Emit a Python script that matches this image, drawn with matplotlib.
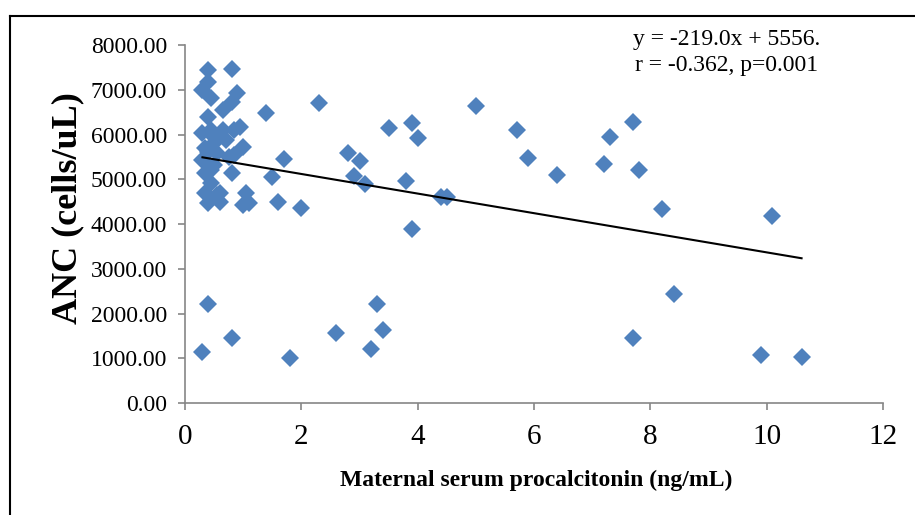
import matplotlib
matplotlib.use('Agg')

import numpy as np
import matplotlib.pyplot as plt
from matplotlib.lines import Line2D

plt.rcParams['font.family'] = ['Liberation Serif', 'DejaVu Serif']

# procalcitonin (ng/mL) - dense cluster near zero
pct_cluster = [0.4, 0.8, 0.3, 0.4, 0.45, 0.9, 0.8, 0.65, 0.4, 0.3, 0.45, 0.65,
               0.85, 0.95, 0.7, 0.5, 1.0, 0.35, 0.55, 0.85, 0.3, 0.75, 0.5,
               0.45, 0.8, 0.35, 0.45, 0.6, 0.35, 0.55, 1.05, 0.4, 0.6, 1.1,
               1.0, 0.5, 0.4]
anc_cluster = [7450, 7470, 7000, 7170, 6820, 6930, 6730, 6550, 6390, 6030, 6100, 6100,
               6100, 6170, 5880, 5810, 5720, 5700, 5590, 5540, 5430, 5500, 5320,
               5210, 5140, 5140, 4920, 4690, 4690, 4650, 4690, 4470, 4490, 4470,
               4420, 5950, 5600]

# remaining points
pct_rest = [0.3, 0.4, 0.8, 1.8, 2.6, 3.2, 3.3, 3.4, 7.7, 8.4, 9.9, 10.6, 10.1,
            8.2, 7.8, 7.7, 7.3, 7.2, 6.4, 5.9, 5.7, 5.0, 4.4, 4.5, 3.9, 3.8,
            3.9, 4.0, 3.5, 2.8, 3.0, 2.9, 3.1, 2.3, 2.0, 1.6, 1.7, 1.5, 1.4]
anc_rest = [1130, 2220, 1450, 1000, 1570, 1200, 2220, 1640, 1450, 2440, 1080, 1030, 4170,
            4340, 5200, 6270, 5940, 5330, 5090, 5480, 6090, 6630, 4600, 4600, 3880, 4950,
            6260, 5930, 6150, 5580, 5410, 5070, 4900, 6700, 4360, 4500, 5460, 5060, 6470]

pct = np.array(pct_cluster + pct_rest)
anc = np.array(anc_cluster + anc_rest)

# trend line coefficients as printed on the chart
slope, intercept = -219.0, 5556.0
eq_lines = ['y = -219.0x + 5556.', 'r = -0.362, p=0.001']

fig = plt.figure(figsize=(9.15, 5.15), dpi=100)
ax = fig.add_axes([185 / 915, 1 - 403 / 515, (883 - 185) / 915, (403 - 45) / 515])

ax.plot(pct, anc, 'D', color='#4F81BD', markersize=9, markeredgewidth=0, linestyle='none')

xl = np.array([pct.min(), pct.max()])
ax.plot(xl, slope * xl + intercept, color='black', lw=1.5)

ax.set_xlim(0, 12)
ax.set_ylim(0, 8000)
ax.set_xticks(range(0, 13, 2))
ax.set_yticks(range(0, 8001, 1000))
ax.set_yticklabels([f'{v:.2f}' for v in range(0, 8001, 1000)])

for s in ['top', 'right']:
    ax.spines[s].set_visible(False)
for s in ['left', 'bottom']:
    ax.spines[s].set_color('#868686')
    ax.spines[s].set_linewidth(1.2)
ax.tick_params(axis='both', direction='out', length=5, color='#868686', width=1.2)
ax.tick_params(axis='x', labelsize=21, pad=10)
ax.tick_params(axis='y', labelsize=17, pad=8)

ax.set_xlabel('Maternal serum procalcitonin (ng/mL)', fontsize=17, fontweight='bold')
ax.xaxis.set_label_coords((536 - 185) / 698, (403 - 480) / 358)
ax.xaxis.label.set_va('center')
ax.set_ylabel('ANC (cells/uL)', fontsize=26, fontweight='bold')
ax.yaxis.set_label_coords((68 - 185) / 698, (403 - 208) / 358)
ax.yaxis.label.set_va('center')

fig.text(727 / 915, 1 - 40 / 515, eq_lines[0], ha='center', va='center', fontsize=17)
fig.text(727 / 915, 1 - 66 / 515, eq_lines[1], ha='center', va='center', fontsize=17)

# outer frame (left and top edges visible)
fig.add_artist(Line2D([10 / 915, 10 / 915], [0, 1 - 16 / 515], transform=fig.transFigure,
                      color='black', lw=1.5))
fig.add_artist(Line2D([10 / 915, 1], [1 - 16 / 515, 1 - 16 / 515], transform=fig.transFigure,
                      color='black', lw=1.5))

fig.savefig('out.png', dpi=100)
